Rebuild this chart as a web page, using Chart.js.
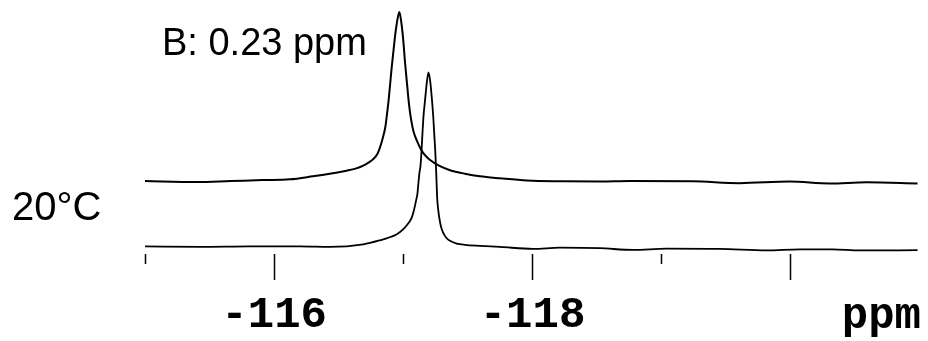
<!DOCTYPE html>
<html>
<head>
<meta charset="utf-8">
<script src="https://cdn.jsdelivr.net/npm/chart.js@4.4.1/dist/chart.umd.min.js"></script>
<style>
  body { margin: 0; background: #fff; }
  #spectrum { display: block; }
</style>
</head>
<body>
<canvas id="spectrum" width="928" height="341"></canvas>
<script>
// upper trace (shifted peak)
var ppmTop = [-115.00, -115.40, -115.66, -115.91, -116.12, -116.30, -116.43, -116.56, -116.63, -116.69,
  -116.73, -116.77, -116.80, -116.82, -116.84, -116.86, -116.874, -116.886, -116.897, -116.910,
  -116.924, -116.936, -116.951, -116.969, -116.982, -116.998, -117.013, -117.029, -117.044, -117.060,
  -117.079, -117.104, -117.129, -117.152, -117.191, -117.230, -117.284, -117.361, -117.477, -117.593,
  -117.748, -117.957, -118.235, -118.521, -118.753, -119.241, -119.604, -119.991, -120.300, -120.586, -120.981]
var intTop = [28.7, 28.3, 28.7, 29.1, 29.4, 30.6, 31.6, 32.8, 33.6, 34.8,
  36.0, 37.5, 39.5, 42.1, 45.5, 49.8, 55.3, 60.5, 66.4, 73.5,
  80.2, 85.8, 91.3, 95.3, 92.1, 85.0, 75.5, 66.8, 58.9, 53.0,
  48.2, 44.7, 41.9, 39.9, 37.7, 36.2, 34.6, 33.0, 31.6, 30.6,
  29.8, 28.9, 28.6, 28.5, 28.7, 28.6, 27.9, 28.5, 27.8, 28.2, 27.8]

// lower trace
var ppmBottom = [-115.00, -115.43, -115.81, -116.20, -116.43, -116.69, -116.82, -116.90, -116.95, -117.000,
  -117.036, -117.065, -117.083, -117.098, -117.110, -117.116, -117.125, -117.133, -117.141, -117.148,
  -117.156, -117.168, -117.182, -117.195, -117.209, -117.222, -117.232, -117.240, -117.247, -117.254,
  -117.262, -117.271, -117.284, -117.297, -117.315, -117.336, -117.361, -117.413, -117.477, -117.593,
  -117.748, -118.003, -118.212, -118.521, -118.777, -119.039, -119.449, -119.813, -120.068, -120.323,
  -120.532, -120.981]
var intBottom = [3.0, 2.8, 3.0, 3.0, 2.8, 3.8, 5.4, 6.7, 7.8, 9.8,
  11.9, 14.3, 17.4, 20.9, 24.1, 27.5, 32.0, 34.8, 40.7, 47.4,
  54.2, 60.5, 67.6, 71.5, 67.6, 60.5, 53.8, 46.6, 40.7, 32.8,
  22.1, 17.0, 12.6, 9.8, 7.7, 6.2, 5.2, 4.1, 3.6, 3.2,
  2.8, 2.0, 2.5, 2.3, 1.6, 2.1, 2.0, 1.4, 1.8, 1.8,
  1.4, 1.5]

var ppmMin = -121
var ppmMax = -115
var labelledTicks = [-116, -118]
var hiddenTicks = [-121]

var peakNote = 'B: 0.23 ppm'
var tempNote = '20°C'
var unitNote = 'ppm'

var monoFont = '"Liberation Mono", "Courier New", monospace'
var sansFont = '"Liberation Sans", Arial, sans-serif'

function toPoints(xs, ys) {
    return xs.map((x, i) => ({ x: x, y: ys[i] }))
}

var notes = {
    id: 'notes',
    afterDraw: (chart) => {
        var c = chart.ctx
        c.save()
        c.fillStyle = '#000'
        c.textBaseline = 'alphabetic'
        c.textAlign = 'left'
        c.font = '38px ' + sansFont
        c.fillText(peakNote, 162, 55)
        c.font = '40px ' + sansFont
        c.fillText(tempNote, 12, 220)
        c.textAlign = 'right'
        c.font = 'bold 44px ' + monoFont
        c.fillText(unitNote, chart.scales.x.right + 1, 328)
        c.restore()
    }
}

new Chart(document.getElementById('spectrum').getContext('2d'), {
    type: 'line',
    data: {
        datasets: [
            {
                data: toPoints(ppmTop, intTop),
                borderColor: '#000',
                borderWidth: 2,
                fill: false,
                cubicInterpolationMode: 'monotone'
            },
            {
                data: toPoints(ppmBottom, intBottom),
                borderColor: '#000',
                borderWidth: 1.8,
                fill: false,
                cubicInterpolationMode: 'monotone'
            }
        ]
    },
    options: {
        responsive: false,
        animation: false,
        layout: { padding: { left: 145, right: 8, top: 0, bottom: 3 } },
        plugins: {
            legend: { display: false },
            tooltip: { enabled: false }
        },
        elements: { point: { radius: 0 } },
        scales: {
            x: {
                type: 'linear',
                reverse: true,
                min: ppmMin,
                max: ppmMax,
                border: { display: false },
                grid: {
                    drawOnChartArea: false,
                    tickLength: 40,
                    tickWidth: 1.5,
                    tickColor: (ctx) => (ctx.tick && hiddenTicks.includes(ctx.tick.value)) ? 'rgba(0,0,0,0)' : '#000',
                    // short marks on odd ppm, long marks on even ppm
                    tickBorderDash: (ctx) => (ctx.tick && Math.abs(ctx.tick.value) % 2 === 1) ? [10, 100] : [26, 100]
                },
                ticks: {
                    stepSize: 1,
                    autoSkip: false,
                    maxRotation: 0,
                    padding: 0,
                    color: '#000',
                    font: { family: monoFont, size: 44, weight: 'bold', lineHeight: 1 },
                    callback: (v) => labelledTicks.includes(v) ? String(v) : ''
                }
            },
            y: {
                display: false,
                min: 0,
                max: 100
            }
        }
    },
    plugins: [notes]
})
</script>
</body>
</html>
